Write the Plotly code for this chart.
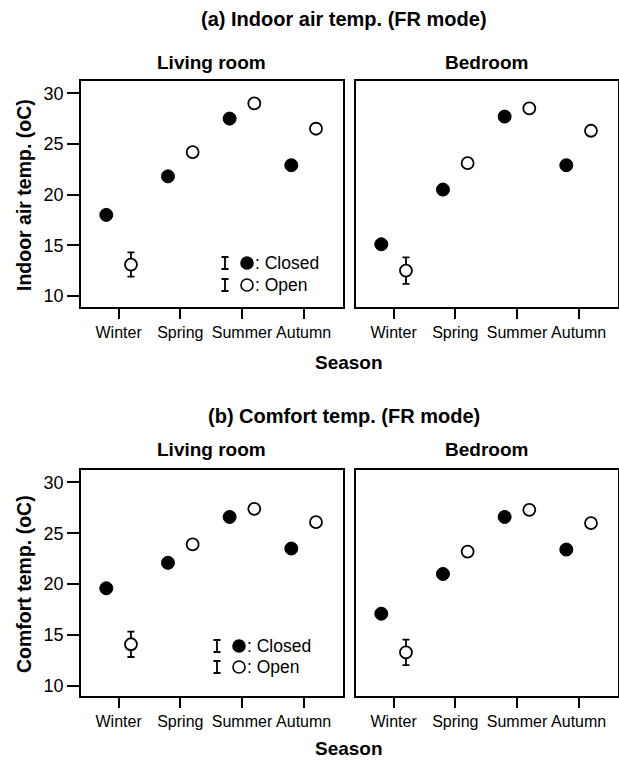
import plotly.graph_objects as go

W, H = 619, 760

seasons = ["Winter", "Spring", "Summer", "Autumn"]

# (a) Indoor air temperature, FR mode
air_living_closed = [18.0, 21.8, 27.5, 22.9]
air_living_open = [13.1, 24.2, 29.0, 26.5]
air_bed_closed = [15.1, 20.5, 27.7, 22.9]
air_bed_open = [12.5, 23.1, 28.5, 26.3]

# (b) Comfort temperature, FR mode
cft_living_closed = [19.6, 22.1, 26.6, 23.5]
cft_living_open = [14.1, 23.9, 27.4, 26.1]
cft_bed_closed = [17.1, 21.0, 26.6, 23.4]
cft_bed_open = [13.3, 23.2, 27.3, 26.0]

# error bar half-lengths (closed ones hidden under markers)
air_living_closed_err = [0.3, 0.3, 0.3, 0.3]
air_living_open_err = [1.2, 0.3, 0.3, 0.3]
air_bed_closed_err = [0.3, 0.3, 0.3, 0.3]
air_bed_open_err = [1.3, 0.3, 0.3, 0.3]
cft_living_closed_err = [0.3, 0.3, 0.3, 0.3]
cft_living_open_err = [1.25, 0.3, 0.3, 0.3]
cft_bed_closed_err = [0.3, 0.3, 0.3, 0.3]
cft_bed_open_err = [1.25, 0.3, 0.3, 0.3]

yticks = [10, 15, 20, 25, 30]

FONT = "Liberation Sans, Arial, sans-serif"
OFF = 0.2

def px(x):
    return x / W

def py(y):
    return 1 - y / H

fig = go.Figure()

panels = [
    ("x", "y", air_living_closed, air_living_closed_err, air_living_open, air_living_open_err),
    ("x2", "y2", air_bed_closed, air_bed_closed_err, air_bed_open, air_bed_open_err),
    ("x3", "y3", cft_living_closed, cft_living_closed_err, cft_living_open, cft_living_open_err),
    ("x4", "y4", cft_bed_closed, cft_bed_closed_err, cft_bed_open, cft_bed_open_err),
]

idx = list(range(len(seasons)))
for xa, ya, c, ce, o, oe in panels:
    fig.add_trace(go.Scatter(
        x=[i - OFF for i in idx], y=c, xaxis=xa, yaxis=ya, mode="markers",
        marker=dict(size=13, color="black", line=dict(color="black", width=1)),
        error_y=dict(type="data", array=ce, color="black", thickness=1.8, width=3.5),
        showlegend=False, hoverinfo="skip"))
    fig.add_trace(go.Scatter(
        x=[i + OFF for i in idx], y=o, xaxis=xa, yaxis=ya, mode="markers",
        marker=dict(size=12, color="white", line=dict(color="black", width=1.8)),
        error_y=dict(type="data", array=oe, color="black", thickness=1.8, width=3.5),
        showlegend=False, hoverinfo="skip"))

xdom_l = [px(81), px(342.5)]
xdom_r = [px(356), px(617.5)]
ydom_t = [py(307), py(81)]
ydom_b = [py(696), py(470)]

xcommon = dict(range=[-0.61, 3.63], tickvals=idx, ticktext=seasons, ticks="outside",
               ticklen=10, tickwidth=1.8, tickcolor="black", showline=True, mirror=True,
               linecolor="black", linewidth=1.5, showgrid=False, zeroline=False,
               tickfont=dict(family=FONT, size=16, color="black"))
ycommon = dict(tickvals=yticks, showline=True, mirror=True, linecolor="black",
               linewidth=1.5, showgrid=False, zeroline=False,
               tickfont=dict(family=FONT, size=18, color="black"))

fig.update_layout(
    width=W, height=H, margin=dict(l=0, r=0, t=0, b=0),
    paper_bgcolor="white", plot_bgcolor="white",
    xaxis=dict(domain=xdom_l, anchor="y", **xcommon),
    xaxis2=dict(domain=xdom_r, anchor="y2", **xcommon),
    xaxis3=dict(domain=xdom_l, anchor="y3", **xcommon),
    xaxis4=dict(domain=xdom_r, anchor="y4", **xcommon),
    yaxis=dict(domain=ydom_t, anchor="x", range=[8.91, 31.21], ticks="outside",
               ticklen=12, tickwidth=1.8, tickcolor="black", **ycommon),
    yaxis2=dict(domain=ydom_t, anchor="x2", range=[8.91, 31.21], ticks="",
                showticklabels=False, **ycommon),
    yaxis3=dict(domain=ydom_b, anchor="x3", range=[9.02, 31.21], ticks="outside",
                ticklen=12, tickwidth=1.8, tickcolor="black", **ycommon),
    yaxis4=dict(domain=ydom_b, anchor="x4", range=[9.02, 31.21], ticks="",
                showticklabels=False, **ycommon),
)

def text(t, x, y, size, bold=True, angle=0, xanchor="center"):
    fig.add_annotation(text=f"<b>{t}</b>" if bold else t, x=px(x), y=py(y),
                       xref="paper", yref="paper", showarrow=False, textangle=angle,
                       xanchor=xanchor, yanchor="middle",
                       font=dict(family=FONT, size=size, color="black"))

cl = (81 + 342.5) / 2
cr = (356 + 617.5) / 2
mid = 348.6

# panel (a)
text("(a) Indoor air temp. (FR mode)", 344, 19, 20)
text("Living room", cl, 62, 19)
text("Bedroom", cr, 62, 19)
text("Season", mid, 362, 19)
text("Indoor air temp. (oC)", 24, 195, 19.5, angle=-90)

# panel (b)
text("(b) Comfort temp. (FR mode)", 344, 416, 20)
text("Living room", cl, 450, 19)
text("Bedroom", cr, 450, 19)
text("Season", mid, 748, 19)
text("Comfort temp. (oC)", 24, 584, 19.5, angle=-90)

# in-panel legends
def legend(xi, y1, y2):
    for yy, filled, label in [(y1, True, ": Closed"), (y2, False, ": Open")]:
        # error-bar glyph
        fig.add_shape(type="path", xref="paper", yref="paper", xsizemode="pixel",
                      ysizemode="pixel", xanchor=px(xi), yanchor=py(yy),
                      path="M -3.5 -6 L 3.5 -6 M 0 -6 L 0 6 M -3.5 6 L 3.5 6",
                      line=dict(color="black", width=1.8))
        cx = xi + 22
        fig.add_shape(type="circle", xref="paper", yref="paper", xsizemode="pixel",
                      ysizemode="pixel", xanchor=px(cx), yanchor=py(yy),
                      x0=-6, x1=6, y0=-6, y1=6,
                      fillcolor="black" if filled else "white",
                      line=dict(color="black", width=1.6))
        text(label, cx + 6, yy, 17.5, bold=False, xanchor="left")

legend(225, 263, 285)
legend(217, 646, 667)

fig.write_html("out.html", config={"displayModeBar": False},
               post_script="document.body.style.margin='0';document.body.style.overflow='hidden';")
